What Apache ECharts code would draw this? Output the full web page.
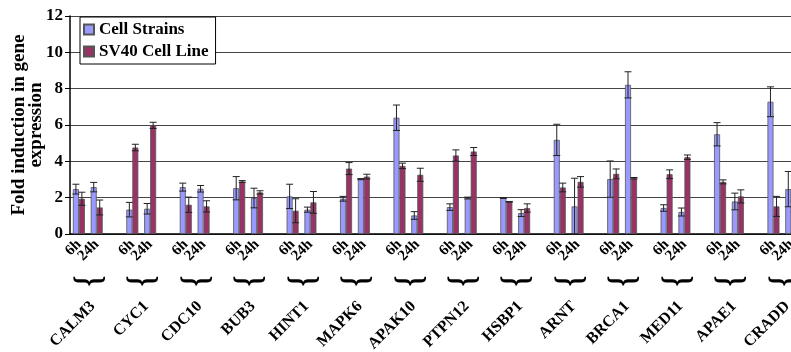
<!DOCTYPE html>
<html>
<head>
<meta charset="utf-8">
<script src="https://cdn.jsdelivr.net/npm/echarts@6/dist/echarts.min.js"></script>
<style>
  html, body { margin: 0; padding: 0; background: #fff; }
  #main { width: 791px; height: 352px; }
</style>
</head>
<body>
<div id="main"></div>
<script>
var genes = ['CALM3', 'CYC1', 'CDC10', 'BUB3', 'HINT1', 'MAPK6', 'APAK10',
  'PTPN12', 'HSBP1', 'ARNT', 'BRCA1', 'MED11', 'APAE1', 'CRADD'];
var times = ['6h', '24h'];
var yTicks = [0, 2, 4, 6, 8, 10, 12];

// per gene: 6h, 24h
var cellStrains = [2.47, 2.58, 1.34, 1.39, 2.58, 2.49, 2.52, 1.98, 2.07, 1.34,
  1.94, 3.02, 6.40, 1.02, 1.48, 1.98, 1.98, 1.15, 5.18, 1.52,
  3.02, 8.21, 1.43, 1.21, 5.49, 1.79, 7.28, 2.47];
var cellStrainsSd = [0.27, 0.26, 0.40, 0.29, 0.22, 0.18, 0.64, 0.54, 0.67, 0.14,
  0.13, 0.03, 0.70, 0.21, 0.18, 0.05, 0.02, 0.19, 0.86, 1.55,
  1.00, 0.72, 0.18, 0.22, 0.64, 0.46, 0.82, 0.97];
var sv40 = [1.94, 1.46, 4.76, 5.98, 1.61, 1.52, 2.89, 2.29, 1.28, 1.74,
  3.60, 3.16, 3.75, 3.26, 4.32, 4.54, 1.77, 1.43, 2.56, 2.87,
  3.31, 3.07, 3.29, 4.23, 2.87, 2.07, 1.52, 1.50];
var sv40Sd = [0.36, 0.41, 0.18, 0.17, 0.42, 0.31, 0.05, 0.09, 0.66, 0.60,
  0.33, 0.13, 0.15, 0.36, 0.31, 0.22, 0.02, 0.23, 0.24, 0.29,
  0.27, 0.04, 0.24, 0.12, 0.11, 0.36, 0.55, 0.30];

var font = 'Liberation Serif';

// 3 slots per gene: 6h, 24h, gap
var categories = [];
genes.forEach(function () {
  categories.push(times[0], times[1], '');
});

function barData(vals) {
  var out = [];
  genes.forEach(function (g, k) {
    out.push(vals[2 * k], vals[2 * k + 1], null);
  });
  return out;
}
function errData(vals, sds) {
  var out = [];
  genes.forEach(function (g, k) {
    for (var i = 0; i < 2; i++) {
      out.push([3 * k + i, vals[2 * k + i], sds[2 * k + i]]);
    }
  });
  return out;
}

function errorBars(offset) {
  return function (params, api) {
    var idx = api.value(0), v = api.value(1), sd = api.value(2);
    var x = api.coord([idx, 0])[0] + offset;
    var yt = api.coord([idx, v + sd])[1];
    var yb = api.coord([idx, Math.max(0, v - sd)])[1];
    var st = { stroke: '#222', lineWidth: 1 };
    return {
      type: 'group',
      children: [
        { type: 'line', shape: { x1: x, y1: yt, x2: x, y2: yb }, style: st },
        { type: 'line', shape: { x1: x - 3.5, y1: yt, x2: x + 3.5, y2: yt }, style: st },
        { type: 'line', shape: { x1: x - 3.5, y1: yb, x2: x + 3.5, y2: yb }, style: st }
      ]
    };
  };
}

var myChart = echarts.init(document.getElementById('main'));

var option = {
  animation: false,
  backgroundColor: '#fff',
  // plot runs past the right edge of the picture
  grid: { left: 70, right: -27, top: 16, bottom: 118, outerBoundsMode: 'none' },
  legend: {
    orient: 'vertical',
    left: 80,
    top: 17,
    backgroundColor: '#fff',
    borderColor: '#000',
    borderWidth: 1,
    padding: [4, 7, 4, 3],
    itemGap: 5,
    itemWidth: 10,
    itemHeight: 10,
    icon: 'rect',
    textStyle: { fontFamily: font, fontWeight: 'bold', fontSize: 17, color: '#000' },
    data: ['Cell Strains', 'SV40 Cell Line']
  },
  xAxis: {
    type: 'category',
    data: categories,
    axisLine: { lineStyle: { color: '#000', width: 1.5 } },
    axisTick: { interval: 0, length: 4, lineStyle: { color: '#000' } },
    axisLabel: {
      interval: 0,
      rotate: 45,
      margin: 8,
      fontFamily: font,
      fontWeight: 'bold',
      fontSize: 15,
      color: '#000'
    }
  },
  yAxis: {
    type: 'value',
    min: yTicks[0],
    max: yTicks[yTicks.length - 1],
    interval: 2,
    name: 'Fold induction in gene\nexpression',
    nameLocation: 'middle',
    nameRotate: 90,
    nameGap: 25,
    nameMoveOverlap: false,
    nameTextStyle: { fontFamily: font, fontWeight: 'bold', fontSize: 19, color: '#000', lineHeight: 17 },
    axisLine: { show: true, lineStyle: { color: '#000', width: 1.5 } },
    axisTick: { show: true, length: 5, lineStyle: { color: '#000' } },
    axisLabel: { fontFamily: font, fontWeight: 'bold', fontSize: 17, color: '#000', margin: 7 },
    splitLine: { lineStyle: { color: '#444', width: 1.2 } }
  },
  series: [
    {
      name: 'Cell Strains',
      type: 'bar',
      data: barData(cellStrains),
      barWidth: 6,
      barGap: '0%',
      itemStyle: { color: '#9999ff', borderColor: '#555', borderWidth: 0.8 }
    },
    {
      name: 'SV40 Cell Line',
      type: 'bar',
      data: barData(sv40),
      barWidth: 6,
      barGap: '0%',
      itemStyle: { color: '#993366', borderColor: '#555', borderWidth: 0.8 }
    },
    {
      type: 'custom',
      silent: true,
      z: 5,
      data: errData(cellStrains, cellStrainsSd),
      encode: { x: 0, y: 1 },
      renderItem: errorBars(-3)
    },
    {
      type: 'custom',
      silent: true,
      z: 5,
      data: errData(sv40, sv40Sd),
      encode: { x: 0, y: 1 },
      renderItem: errorBars(3)
    },
    {
      type: 'custom',
      silent: true,
      clip: false,
      data: genes.map(function (g, k) { return [3 * k, 0, k]; }),
      encode: { x: 0, y: 1 },
      renderItem: function (params, api) {
        var idx = api.value(0);
        var p0 = api.coord([idx, 0]);
        var p1 = api.coord([idx + 1, 0]);
        var cx = (p0[0] + p1[0]) / 2;
        var y0 = p0[1];
        var name = genes[api.value(2)];
        return {
          type: 'group',
          children: [
            {
              type: 'text',
              x: cx,
              y: y0 + 47,
              rotation: -Math.PI / 2,
              scaleX: 0.7,
              style: {
                text: '}', fontFamily: font, fontWeight: 'bold', fontSize: 38,
                fill: '#000', align: 'center', verticalAlign: 'middle'
              }
            },
            {
              type: 'text',
              x: cx + 5,
              y: y0 + 70,
              rotation: Math.PI / 4,
              style: {
                text: name, fontFamily: font, fontWeight: 'bold', fontSize: 16,
                fill: '#000', align: 'right', verticalAlign: 'middle'
              }
            }
          ]
        };
      }
    }
  ]
};

myChart.setOption(option);
</script>
</body>
</html>
